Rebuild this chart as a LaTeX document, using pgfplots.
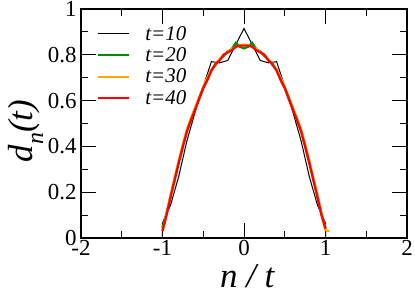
\documentclass[border=0pt]{standalone}
\usepackage{fontspec}
\setmainfont{Liberation Serif}
\usepackage{pgfplots}
\pgfplotsset{compat=1.18}
\definecolor{cgreen}{RGB}{0,140,0}
\definecolor{corange}{RGB}{255,165,0}
\definecolor{cred}{RGB}{255,0,0}
\begin{document}
\begin{tikzpicture}
\begin{axis}[
  scale only axis, width=326bp, height=229bp,
  xmin=-2, xmax=2, ymin=0, ymax=1,
  xtick={-2,-1,0,1,2}, xticklabels={-2,-1,0,1,2},
  ytick={0,0.2,0.4,0.6,0.8,1}, yticklabels={0,0.2,0.4,0.6,0.8,1},
  minor x tick num=1, minor y tick num=1,
  tick align=inside, major tick length=15bp, minor tick length=7bp,
  axis line style={line width=1.2bp},
  every tick/.style={line width=1bp, black},
  tick label style={font=\fontsize{23}{26}\selectfont},
  xticklabel style={yshift=1bp},
  yticklabel style={xshift=-1bp},
  xlabel={\itshape n / t},
  ylabel={\itshape d\raisebox{-0.32em}{\fontsize{24}{24}\selectfont n}(t)},
  xlabel style={font=\fontsize{35}{40}\selectfont, at={(axis description cs:0.51,-0.214)}, anchor=base},
  ylabel style={font=\fontsize{35}{40}\selectfont, at={(axis description cs:-0.1503,0.467)}, anchor=base},
  legend style={at={(rel axis cs:0,1)}, anchor=north west, xshift=13bp, yshift=-13bp,
    draw=none, fill=none, font=\fontsize{21}{23}\selectfont\itshape, row sep=2bp, column sep=13bp},
  legend cell align=left,
  legend image code/.code={\draw (0bp,0bp) -- (31bp,0bp);},
]
\addplot[black, line width=1bp] coordinates {
(-1,0) (-1,0.065) (-0.9,0.145) (-0.8,0.27) (-0.7,0.425) (-0.6,0.55) (-0.5,0.662)
(-0.4,0.77) (-0.3,0.765) (-0.2,0.775) (-0.1,0.845) (0,0.915)
(0.1,0.845) (0.2,0.775) (0.3,0.765) (0.4,0.77) (0.5,0.662) (0.6,0.55)
(0.7,0.425) (0.8,0.27) (0.9,0.145) (1,0.065) (1,0)};
\addlegendentry{t=10}
\addplot[cgreen, line width=2.2bp] coordinates {
(-1,0.045) (-0.95,0.11) (-0.9,0.185) (-0.85,0.255) (-0.8,0.33) (-0.75,0.40)
(-0.7,0.47) (-0.65,0.515) (-0.6,0.565) (-0.55,0.605) (-0.5,0.655) (-0.45,0.69)
(-0.4,0.735) (-0.35,0.755) (-0.3,0.78) (-0.25,0.795) (-0.2,0.815) (-0.15,0.825)
(-0.1,0.852) (-0.05,0.835) (0,0.828)
(0.05,0.835) (0.1,0.852) (0.15,0.825) (0.2,0.815) (0.25,0.795) (0.3,0.78)
(0.35,0.755) (0.4,0.735) (0.45,0.69) (0.5,0.655) (0.55,0.605) (0.6,0.565)
(0.65,0.515) (0.7,0.47) (0.75,0.40) (0.8,0.33) (0.85,0.255) (0.9,0.185)
(0.95,0.11) (1,0.045)};
\addlegendentry{t=20}
\addplot[corange, line width=2.2bp] coordinates {
(-1,0.03) (-0.95,0.105) (-0.9,0.19) (-0.85,0.265) (-0.8,0.34) (-0.75,0.41)
(-0.7,0.475) (-0.65,0.525) (-0.6,0.57) (-0.55,0.615) (-0.5,0.66) (-0.45,0.70)
(-0.4,0.735) (-0.35,0.76) (-0.3,0.78) (-0.25,0.80) (-0.2,0.812) (-0.15,0.825)
(-0.1,0.835) (-0.05,0.842) (0,0.845)
(0.05,0.842) (0.1,0.835) (0.15,0.825) (0.2,0.812) (0.25,0.80) (0.3,0.78)
(0.35,0.76) (0.4,0.735) (0.45,0.70) (0.5,0.66) (0.55,0.615) (0.6,0.57)
(0.65,0.525) (0.7,0.475) (0.75,0.41) (0.8,0.34) (0.85,0.265) (0.9,0.19)
(0.95,0.105) (1,0.035) (1.033,0.03) (1.05,0.03)};
\addlegendentry{t=30}
\addplot[cred, line width=2.2bp] coordinates {
(-1,0.03) (-0.95,0.10) (-0.9,0.18) (-0.85,0.255) (-0.8,0.33) (-0.75,0.40)
(-0.7,0.465) (-0.65,0.515) (-0.6,0.56) (-0.55,0.61) (-0.5,0.655) (-0.45,0.69)
(-0.4,0.73) (-0.35,0.76) (-0.3,0.775) (-0.25,0.80) (-0.2,0.81) (-0.15,0.82)
(-0.1,0.835) (-0.05,0.84) (0,0.84)
(0.05,0.84) (0.1,0.835) (0.15,0.82) (0.2,0.81) (0.25,0.80) (0.3,0.775)
(0.35,0.76) (0.4,0.73) (0.45,0.69) (0.5,0.655) (0.55,0.61) (0.6,0.56)
(0.65,0.515) (0.7,0.465) (0.75,0.40) (0.8,0.33) (0.85,0.255) (0.9,0.18)
(0.95,0.10) (1,0.04)};
\addlegendentry{t=40}
\end{axis}
\pgfresetboundingbox
\path[use as bounding box] ([xshift=-81bp,yshift=-57bp]current axis.south west) rectangle ([xshift=8bp,yshift=9bp]current axis.north east);
\end{tikzpicture}
\end{document}
